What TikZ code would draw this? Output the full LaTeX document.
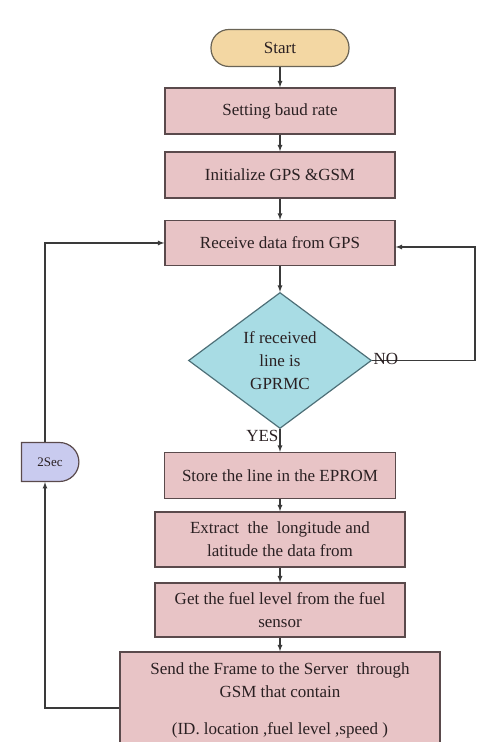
\documentclass[tikz,border=0pt]{standalone}
\usepackage{fontspec}
\setmainfont{Liberation Serif}
\usepackage{xcolor}
\usetikzlibrary{shapes.geometric,shapes.misc}
\definecolor{boxpink}{HTML}{E8C4C6}
\definecolor{boxline}{HTML}{5A4A4C}
\definecolor{startfill}{HTML}{F3D7A3}
\definecolor{startline}{HTML}{6A6456}
\definecolor{checkfill}{HTML}{A8DCE4}
\definecolor{checkline}{HTML}{4E7078}
\definecolor{delayfill}{HTML}{C9CBEF}
\definecolor{flowline}{HTML}{3A3A3A}
\definecolor{textdark}{HTML}{2A2022}

\begin{document}
\begin{tikzpicture}[x=1pt, y=1pt, node distance=64pt, auto, >=latex,
  font=\fontsize{17}{23}\selectfont, text=textdark,
  stepbox/.style={draw=boxline, fill=boxpink, line width=1.3pt, minimum height=46pt, align=center, inner sep=2pt},
  startbox/.style={draw=startline, fill=startfill, line width=1.2pt, rounded corners=18pt, minimum width=138pt, minimum height=37pt},
  decision/.style={diamond, aspect=1.35, draw=checkline, fill=checkfill, line width=1.2pt, minimum width=183pt, minimum height=136pt, inner sep=0pt, align=center},
  delaybox/.style={rounded rectangle, rounded rectangle left arc=none, draw=boxline, fill=delayfill, line width=1.2pt, minimum width=64pt, minimum height=39pt, font=\fontsize{13}{15}\selectfont},
  flow/.style={draw=flowline, line width=1.2pt}]
  \useasboundingbox (0,0) rectangle (481,742);
  \clip (0,0) rectangle (481,742);

  \node (Start) [startbox] at (280,694) {Start};
  \node (Baud) [stepbox, minimum width=230pt, below of=Start, yshift=1pt] {Setting baud rate};
  \node (Init) [stepbox, minimum width=230pt, below of=Baud] {Initialize GPS \&GSM};
  \node (Receive) [stepbox, minimum width=230pt, minimum height=45pt, below of=Init, yshift=-4pt] {Receive data from GPS};
  \node (Check) [decision, below of=Receive, yshift=-53.5pt] {If received\\line is\\GPRMC};
  \node (Store) [stepbox, minimum width=231pt, below of=Check, yshift=-51pt] {Store the line in the EPROM};
  \node (Extract) [stepbox, minimum width=250pt, minimum height=55pt, below of=Store] {Extract\ \ the\ \ longitude and\\latitude the data from};
  \node (Fuel) [stepbox, minimum width=250pt, minimum height=54pt, below of=Extract, yshift=-6.5pt] {Get the fuel level from the fuel\\sensor};
  \node (Send) [stepbox, minimum width=320pt, minimum height=96pt, below of=Fuel, yshift=-26pt] {Send the Frame to the Server\ \ through\\GSM that contain\\[14pt](ID. location ,fuel level ,speed )};
  \node (Delay) [delaybox] at (50,280) {2Sec};
  \coordinate (noRight) at (475,0);

  \draw[flow,->] (Start) -- (Baud);
  \draw[flow,->] (Baud) -- (Init);
  \draw[flow,->] (Init) -- (Receive);
  \draw[flow,->] (Receive) -- (Check);
  \draw[flow,->] (Check.south) node[below left, inner sep=1pt] {YES} -- (Store);
  \draw[flow,->] (Store) -- (Extract);
  \draw[flow,->] (Extract) -- (Fuel);
  \draw[flow,->] (Fuel) -- (Send);
  \draw[flow,->] (Check.east) node[right, inner sep=1pt, yshift=2pt] {NO} -- (Check.east -| noRight) |- ([yshift=-4pt]Receive.east);
  \draw[flow,->] ([yshift=-8pt]Send.west) -| ([xshift=-5pt]Delay.south);
  \draw[flow,->] ([xshift=-5pt]Delay.north) |- (Receive.west);
\end{tikzpicture}
\end{document}
